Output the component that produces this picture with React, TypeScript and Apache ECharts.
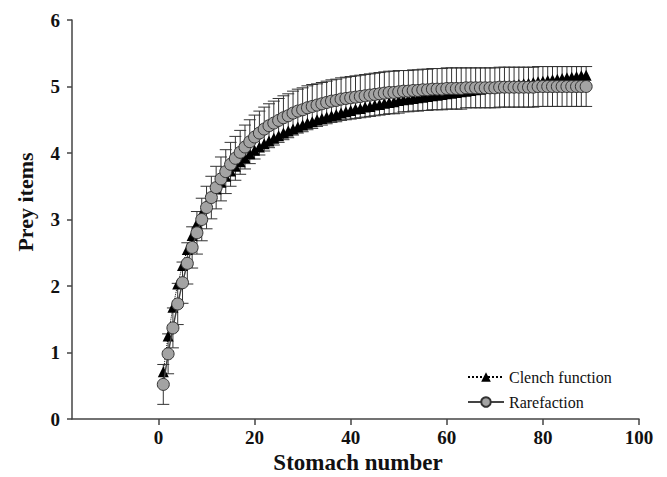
import React, { useEffect, useRef } from "react";
import * as echarts from "echarts";

const stomachNumbers = [
  1, 2, 3, 4, 5, 6, 7, 8, 9, 10,
  11, 12, 13, 14, 15, 16, 17, 18, 19, 20,
  21, 22, 23, 24, 25, 26, 27, 28, 29, 30,
  31, 32, 33, 34, 35, 36, 37, 38, 39, 40,
  41, 42, 43, 44, 45, 46, 47, 48, 49, 50,
  51, 52, 53, 54, 55, 56, 57, 58, 59, 60,
  61, 62, 63, 64, 65, 66, 67, 68, 69, 70,
  71, 72, 73, 74, 75, 76, 77, 78, 79, 80,
  81, 82, 83, 84, 85, 86, 87, 88, 89,
];

const rarefaction = [
  0.52, 0.98, 1.37, 1.73, 2.05, 2.34, 2.58, 2.8, 3.0, 3.18,
  3.33, 3.48, 3.61, 3.72, 3.83, 3.92, 4.01, 4.09, 4.17, 4.24,
  4.3, 4.36, 4.41, 4.45, 4.49, 4.53, 4.56, 4.6, 4.63, 4.65,
  4.68, 4.7, 4.72, 4.74, 4.76, 4.78, 4.79, 4.81, 4.82, 4.83,
  4.84, 4.85, 4.86, 4.87, 4.88, 4.89, 4.9, 4.91, 4.91, 4.92,
  4.93, 4.93, 4.94, 4.94, 4.95, 4.95, 4.96, 4.96, 4.96, 4.97,
  4.97, 4.97, 4.97, 4.98, 4.98, 4.98, 4.98, 4.98, 4.98, 4.98,
  4.99, 4.99, 4.99, 4.99, 4.99, 4.99, 4.99, 4.99, 5.0, 5.0,
  5.0, 5.0, 5.0, 5.0, 5.0, 5.0, 5.0, 5.0, 5.0,
];

const rarefactionSD = [
  0.3, 0.3, 0.3, 0.31, 0.31, 0.31, 0.31, 0.32, 0.32, 0.32,
  0.32, 0.32, 0.33, 0.33, 0.33, 0.33, 0.33, 0.33, 0.33, 0.33,
  0.33, 0.33, 0.33, 0.33, 0.33, 0.33, 0.33, 0.33, 0.33, 0.33,
  0.33, 0.33, 0.32, 0.32, 0.32, 0.32, 0.32, 0.32, 0.32, 0.32,
  0.32, 0.32, 0.32, 0.32, 0.32, 0.32, 0.32, 0.32, 0.32, 0.32,
  0.31, 0.31, 0.31, 0.31, 0.31, 0.31, 0.31, 0.31, 0.31, 0.31,
  0.31, 0.31, 0.31, 0.3, 0.3, 0.3, 0.3, 0.3, 0.3, 0.3,
  0.3, 0.3, 0.3, 0.3, 0.3, 0.3, 0.3, 0.3, 0.3, 0.3,
  0.3, 0.3, 0.3, 0.3, 0.3, 0.3, 0.3, 0.3, 0.3,
];

const clench = [
  0.71, 1.25, 1.68, 2.03, 2.31, 2.55, 2.76, 2.94, 3.09, 3.23,
  3.35, 3.46, 3.56, 3.65, 3.73, 3.8, 3.87, 3.93, 3.99, 4.04,
  4.09, 4.14, 4.18, 4.22, 4.26, 4.3, 4.33, 4.36, 4.39, 4.42,
  4.45, 4.47, 4.5, 4.52, 4.54, 4.56, 4.58, 4.6, 4.62, 4.64,
  4.66, 4.67, 4.69, 4.7, 4.72, 4.73, 4.75, 4.76, 4.77, 4.79,
  4.8, 4.81, 4.82, 4.83, 4.84, 4.85, 4.86, 4.87, 4.88, 4.89,
  4.9, 4.91, 4.92, 4.93, 4.94, 4.95, 4.96, 4.97, 4.98, 4.98,
  4.99, 5.0, 5.01, 5.02, 5.03, 5.04, 5.05, 5.06, 5.07, 5.08,
  5.09, 5.1, 5.11, 5.12, 5.13, 5.14, 5.15, 5.16, 5.17,
];

const xTickValues = [0, 20, 40, 60, 80, 100];
const seriesNames = ["Clench function", "Rarefaction"];
const xTitle = "Stomach number";
const yTitle = "Prey items";

const SERIF = "Liberation Serif";

export default function App() {
  const ref = useRef<HTMLDivElement>(null);

  useEffect(() => {
    if (!ref.current) return;
    const chart = echarts.init(ref.current, null, { renderer: "svg" });

    const errData = stomachNumbers.map((s, i) => [
      s,
      rarefaction[i] - rarefactionSD[i],
      rarefaction[i] + rarefactionSD[i],
    ]);

    const axisLineStyle = { color: "#444", width: 1.5 };
    const labelStyle = {
      fontFamily: SERIF,
      fontWeight: "bold" as const,
      fontSize: 19,
      color: "#111",
    };

    chart.setOption({
      animation: false,
      backgroundColor: "#ffffff",
      grid: { left: 72, right: 28, top: 20, bottom: 58 },
      xAxis: {
        type: "value",
        min: -18,
        max: 100,
        axisLine: { show: true, onZero: false, lineStyle: axisLineStyle },
        axisTick: {
          show: true,
          customValues: xTickValues,
          length: 6,
          lineStyle: axisLineStyle,
        },
        axisLabel: { ...labelStyle, customValues: xTickValues, margin: 9 },
        splitLine: { show: false },
      },
      yAxis: {
        type: "value",
        min: 0,
        max: 6,
        interval: 1,
        axisLine: { show: true, onZero: false, lineStyle: axisLineStyle },
        axisTick: { show: true, length: 5, lineStyle: axisLineStyle },
        axisLabel: { ...labelStyle, margin: 12 },
        splitLine: { show: false },
      },
      legend: {
        data: seriesNames,
        orient: "vertical",
        left: 462,
        top: 364,
        itemWidth: 36,
        itemHeight: 12,
        itemGap: 9,
        textStyle: { fontFamily: SERIF, fontSize: 16, color: "#111" },
      },
      series: [
        {
          type: "custom",
          name: "errors",
          z: 1,
          silent: true,
          data: errData,
          encode: { x: 0, y: [1, 2] },
          renderItem: (_params: any, api: any) => {
            const x = api.value(0);
            const pLo = api.coord([x, api.value(1)]);
            const pHi = api.coord([x, api.value(2)]);
            const hw = 6;
            const style = { stroke: "#333", lineWidth: 1 };
            return {
              type: "group",
              children: [
                { type: "line", shape: { x1: pLo[0], y1: pLo[1], x2: pHi[0], y2: pHi[1] }, style },
                { type: "line", shape: { x1: pLo[0] - hw, y1: pLo[1], x2: pLo[0] + hw, y2: pLo[1] }, style },
                { type: "line", shape: { x1: pHi[0] - hw, y1: pHi[1], x2: pHi[0] + hw, y2: pHi[1] }, style },
              ],
            };
          },
        },
        {
          type: "line",
          name: seriesNames[0],
          z: 2,
          data: stomachNumbers.map((s, i) => [s, clench[i]]),
          symbol: "triangle",
          symbolSize: 11,
          showAllSymbol: true,
          itemStyle: { color: "#000" },
          lineStyle: { type: "dotted", color: "#000", width: 1 },
        },
        {
          type: "line",
          name: seriesNames[1],
          z: 3,
          data: stomachNumbers.map((s, i) => [s, rarefaction[i]]),
          symbol: "circle",
          symbolSize: 12,
          showAllSymbol: true,
          itemStyle: { color: "#a3a3a3", borderColor: "#333", borderWidth: 1 },
          lineStyle: { color: "#444", width: 1.5 },
        },
      ],
      graphic: [
        {
          type: "text",
          x: 25,
          y: 202,
          rotation: Math.PI / 2,
          style: {
            text: yTitle,
            font: `bold 22px ${SERIF}`,
            fill: "#111",
            align: "center",
            verticalAlign: "middle",
          },
        },
        {
          type: "text",
          x: 358,
          y: 462,
          style: {
            text: xTitle,
            font: `bold 23px ${SERIF}`,
            fill: "#111",
            align: "center",
            verticalAlign: "middle",
          },
        },
      ],
    });

    return () => chart.dispose();
  }, []);

  return (
    <div
      ref={ref}
      style={{ position: "fixed", left: 0, top: 0, width: 667, height: 477 }}
    />
  );
}
